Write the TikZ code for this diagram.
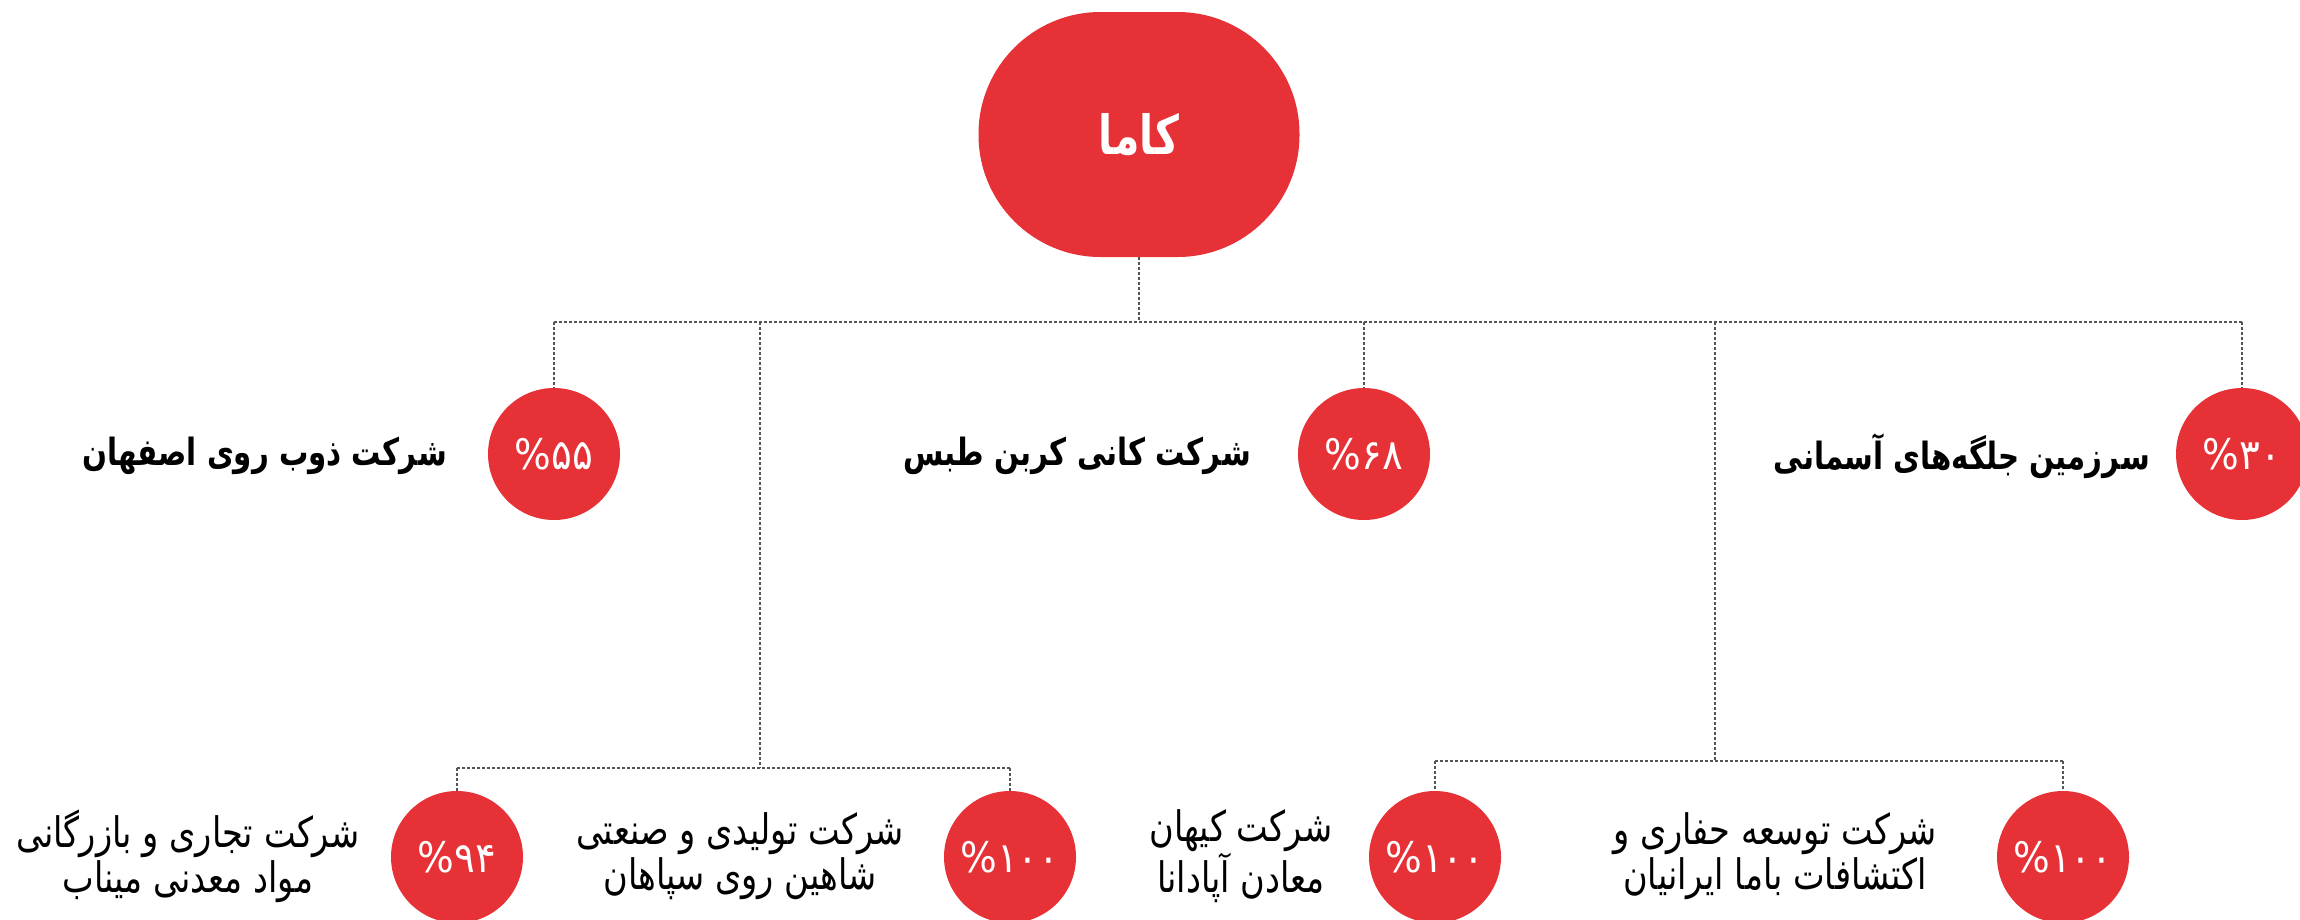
\documentclass[tikz,border=0pt]{standalone}
\usepackage{fontspec}
\TeXXeTstate=1
\newfontfamily\fanarrow[Script=Arabic,FakeStretch=0.78]{DejaVu Sans}
\newfontfamily\facond[Script=Arabic,FakeStretch=0.8]{DejaVu Sans}
\newfontfamily\fatitle[Script=Arabic,FakeStretch=0.76]{DejaVu Sans}
\newfontfamily\fapct[Script=Arabic,FakeStretch=0.92]{DejaVu Sans}
\definecolor{kred}{HTML}{E63137}
\definecolor{kline}{HTML}{555555}
\tikzset{
  pill/.style={fill=kred, draw=none, rounded corners=122pt, minimum width=321pt, minimum height=245pt, inner sep=0pt, text=white, font=\fatitle\bfseries\fontsize{54}{60}\selectfont},
  pct/.style={circle, fill=kred, draw=none, minimum size=132pt, inner sep=0pt, text=white, font=\fapct\fontsize{42}{48}\selectfont},
  toplabel/.style={anchor=east, inner sep=0pt, font=\fanarrow\bfseries\fontsize{37.5}{42}\selectfont},
  botlabel/.style={inner sep=0pt, align=center, font=\facond\fontsize{42}{45}\selectfont},
  conn/.style={draw=kline, line width=2.8pt, dash pattern=on 3pt off 2pt}
}
\begin{document}
\begin{tikzpicture}[x=1pt,y=-1pt]
\useasboundingbox (0,0) rectangle (2300,919);
% root
\node[pill] (kama) at (1139,134.5) {\beginR کاما\endR};
% top row
\node[pct] (p55) at (554,454) {\%۵۵};
\node[pct] (p68) at (1364,454) {\%۶۸};
\node[pct] (p30) at (2242,454) {\%۳۰};
\node[toplabel] (t55) at (447,456) {\beginR شرکت ذوب روی اصفهان\endR};
\node[toplabel] (t68) at (1251,456) {\beginR شرکت کانی کربن طبس\endR};
\node[toplabel] (t30) at (2150,456) {\beginR سرزمین جلگه‌های آسمانی\endR};
% bottom row
\node[pct] (p94) at (457,857) {\%۹۴};
\node[pct] (p100a) at (1010,857) {\%۱۰۰};
\node[pct] (p100b) at (1435,857) {\%۱۰۰};
\node[pct] (p100c) at (2063,857) {\%۱۰۰};
\node[botlabel] (t94) at (188,856) {\beginR شرکت تجاری و بازرگانی\endR\\\beginR مواد معدنی میناب\endR};
\node[botlabel] (t100a) at (740,856) {\beginR شرکت تولیدی و صنعتی\endR\\\beginR شاهین روی سپاهان\endR};
\node[botlabel] (t100b) at (1241,856) {\beginR شرکت کیهان\endR\\\beginR معادن آپادانا\endR};
\node[botlabel] (t100c) at (1775,856) {\beginR شرکت توسعه حفاری و\endR\\\beginR اکتشافات باما ایرانیان\endR};
% connector coordinates
\coordinate (hub) at (1139,322);
\coordinate (busL) at (760,322);
\coordinate (busR) at (1715,322);
\coordinate (sub1) at (760,768);
\coordinate (sub2) at (1715,761);
% connectors
\draw[conn] (kama.south) -- (hub);
\draw[conn] (p55.north |- hub) -- (p30.north |- hub);
\draw[conn] (p55.north |- hub) -- (p55.north);
\draw[conn] (p68.north |- hub) -- (p68.north);
\draw[conn] (p30.north |- hub) -- (p30.north);
\draw[conn] (busL) -- (sub1);
\draw[conn] (p94.north |- sub1) -- (p100a.north |- sub1);
\draw[conn] (p94.north |- sub1) -- (p94.north);
\draw[conn] (p100a.north |- sub1) -- (p100a.north);
\draw[conn] (busR) -- (sub2);
\draw[conn] (p100b.north |- sub2) -- (p100c.north |- sub2);
\draw[conn] (p100b.north |- sub2) -- (p100b.north);
\draw[conn] (p100c.north |- sub2) -- (p100c.north);
\end{tikzpicture}
\end{document}
